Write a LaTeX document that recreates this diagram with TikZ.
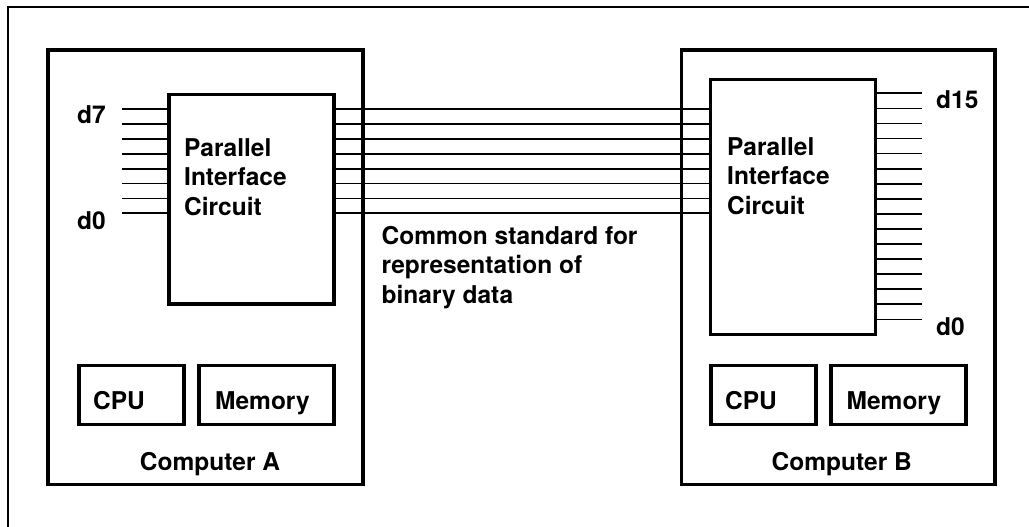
\documentclass[tikz,border=0pt]{standalone}
\usepackage{fontspec}
\setmainfont{TeX Gyre Heros}
\begin{document}
\begin{tikzpicture}[x=1pt,y=-1pt,
  box/.style={draw=black, line width=3.3pt, rectangle, inner sep=0pt, minimum width=#1},
  wire/.style={line width=1.7pt},
  frameline/.style={line width=1.6pt},
  lbl/.style={font=\fontsize{24.5}{29.5}\selectfont\bfseries, inner sep=0pt, anchor=base west, align=left}]
\useasboundingbox (0,0) rectangle (1029,527);
\draw[frameline] (8,527) -- (8,7) -- (1029,7);
% computers
\node[box=315pt, minimum height=434.5pt] (compA) at (205.5,267.25) {};
\node[box=313.5pt, minimum height=434.5pt] (compB) at (838.25,267.25) {};
% parallel interface circuits
\node[box=165pt, minimum height=209.5pt] (picA) at (251.5,199.25) {};
\node[box=165pt, minimum height=255pt] (picB) at (793,207) {};
% cpu / memory
\node[box=105pt, minimum height=59pt] (cpuA) at (131.5,395) {};
\node[box=135pt, minimum height=59pt] (memA) at (266.5,395) {};
\node[box=105pt, minimum height=59pt] (cpuB) at (763.5,395) {};
\node[box=135pt, minimum height=59pt] (memB) at (898.5,395) {};
% wires
\coordinate (inA) at (122,0);
\coordinate (outB) at (921.7,0);
\foreach \i in {0,...,7}{
  \pgfmathsetmacro\yy{109.3+14.86*\i}
  \draw[wire] (inA |- 0,\yy) -- (picA.west |- 0,\yy);
  \draw[wire] (picA.east |- 0,\yy) -- (picB.west |- 0,\yy);
}
\foreach \i in {0,...,15}{
  \pgfmathsetmacro\yy{93.3+15.07*\i}
  \draw[wire] (picB.east |- 0,\yy) -- (outB |- 0,\yy);
}
% labels
\node[lbl] (d7) at (77,124) {d7};
\node[lbl] (d0a) at (77,229) {d0};
\node[lbl] (d15) at (936,109) {d15};
\node[lbl] (d0b) at (936,335) {d0};
\node[lbl] (tpicA) at (184,215) {Parallel\\Interface\\Circuit};
\node[lbl] (tpicB) at (727,214) {Parallel\\Interface\\Circuit};
\node[lbl] (tcommon) at (381.5,303) {Common standard for\\representation of\\binary data};
\node[lbl] (tcpuA) at (93,409) {CPU};
\node[lbl] (tmemA) at (215,409) {Memory};
\node[lbl] (tcpuB) at (725,409) {CPU};
\node[lbl] (tmemB) at (846.5,409) {Memory};
\node[lbl, anchor=base] (tcA) at (210,470) {Computer A};
\node[lbl, anchor=base] (tcB) at (841.7,470) {Computer B};
\end{tikzpicture}
\end{document}
